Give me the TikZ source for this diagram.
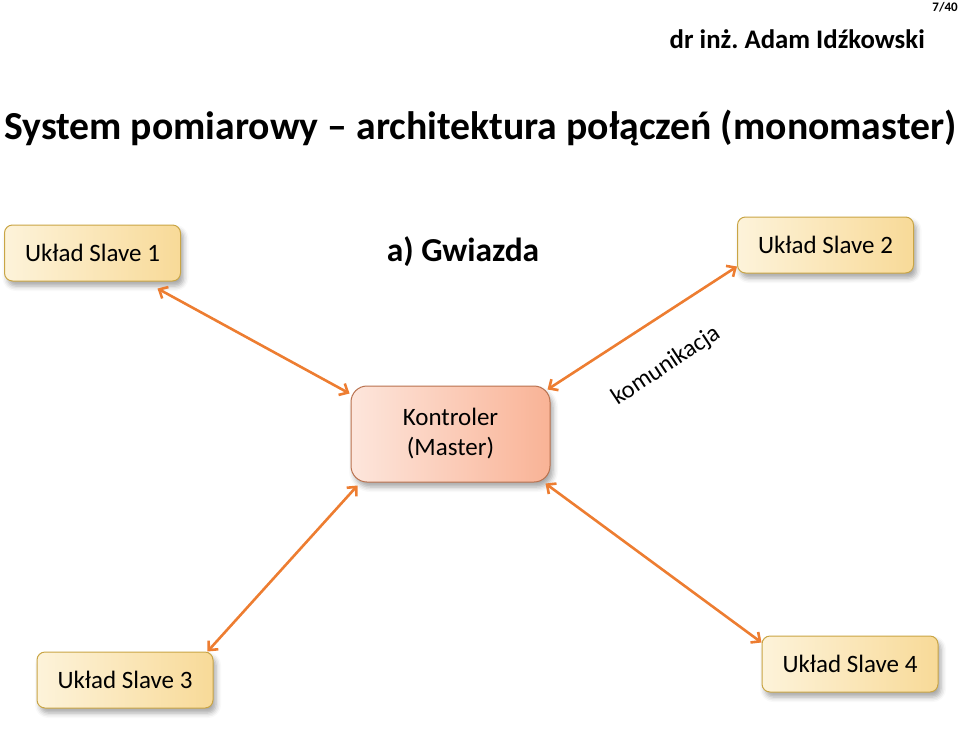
\documentclass[tikz,border=0pt]{standalone}
\usepackage{fontspec}
\setmainfont{Carlito}
\usetikzlibrary{arrows.meta,calc,shadows.blur}
\frenchspacing
\definecolor{arrowor}{HTML}{ED7D31}
\definecolor{slaveL}{HTML}{FDF3DA}
\definecolor{slaveR}{HTML}{F8DA98}
\definecolor{slaveB}{HTML}{C9A545}
\definecolor{mastL}{HTML}{FDE6DC}
\definecolor{mastR}{HTML}{F9B396}
\definecolor{mastB}{HTML}{B8714E}
\tikzset{
  slavebox/.style={draw=slaveB, line width=1pt, rounded corners=8pt,
    left color=slaveL, right color=slaveR,
    minimum width=176pt, minimum height=56pt, inner sep=0pt,
    font=\fontsize{25}{29}\selectfont,
    blur shadow={shadow xshift=3pt, shadow yshift=-5pt, shadow blur radius=5pt, shadow opacity=35}},
  masterbox/.style={draw=mastB, line width=1pt, rounded corners=16pt,
    left color=mastL, right color=mastR,
    minimum width=199pt, minimum height=96pt, inner sep=0pt, align=center,
    font=\fontsize{25}{30}\selectfont,
    blur shadow={shadow xshift=3pt, shadow yshift=-5pt, shadow blur radius=5pt, shadow opacity=35}},
  link/.style={draw=arrowor, line width=2.6pt,
    {Straight Barb[length=7pt,width=13pt,line width=2.6pt]}-{Straight Barb[length=7pt,width=13pt,line width=2.6pt]}},
  heading/.style={font=\fontsize{39.7}{47}\selectfont\bfseries, inner sep=0pt, anchor=base west},
  author/.style={font=\fontsize{26.8}{31}\selectfont\bfseries, inner sep=0pt, anchor=base east},
}
\begin{document}
\begin{tikzpicture}[x=1pt,y=-1pt]
\useasboundingbox (0,0) rectangle (959,729);
% page number
\node[font=\fontsize{13}{15}\selectfont\bfseries, inner sep=0pt, anchor=base east] (page) at (958,11) {7/40};
% author
\node[author] (authortx) at (925,48) {dr inż. Adam Idźkowski};
% title
\node[heading] (title) at (4,139) {System pomiarowy – architektura połączeń (monomaster)};
% subtitle
\node[font=\fontsize{33.5}{40}\selectfont\bfseries, inner sep=0pt] (sub) at (463,252) {a) Gwiazda};
% boxes
\node[slavebox] (s1) at (92.5,253) {Układ Slave 1};
\node[slavebox] (s2) at (825.5,245) {Układ Slave 2};
\node[slavebox] (s3) at (125,680) {Układ Slave 3};
\node[slavebox] (s4) at (850,664) {Układ Slave 4};
\node[masterbox] (m) at (450.5,434) {Kontroler\\(Master)};
% links
\draw[link] ($(s1.south east)+(-23.5,7)$) -- ($(m.north west)+(-1,8)$);
\draw[link] ($(m.north east)+(-3,4)$) -- ($(s2.south west)+(0,-7)$);
\draw[link] ($(m.south west)+(7,3)$) -- ($(s3.north east)+(-6,0)$);
\draw[link] ($(m.south east)+(-5,1)$) -- ($(s4.north west)+(0,7)$);
% label
\node[font=\fontsize{24.5}{28}\selectfont, rotate=33.5, inner sep=0pt] (kom) at (666,366) {komunikacja};
\end{tikzpicture}
\end{document}
